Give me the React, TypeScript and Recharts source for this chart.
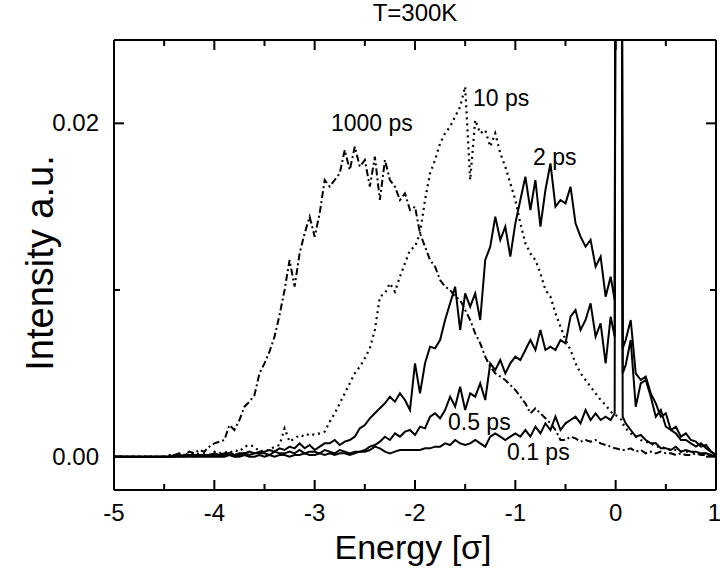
import React from "react";
import { LineChart, Line, XAxis, YAxis } from "recharts";

const FONT = '"Liberation Sans", Arial, Helvetica, sans-serif';

// energy grid (units of sigma)
const ENERGY = [
  -5, -4.8, -4.6,
  -4.5, -4.45, -4.4, -4.35, -4.3, -4.25, -4.2, -4.15, -4.1, -4.05,
  -4.0, -3.95, -3.9, -3.85, -3.8, -3.75, -3.7, -3.65, -3.6, -3.55,
  -3.5, -3.45, -3.4, -3.35, -3.3, -3.25, -3.2, -3.15, -3.1, -3.05,
  -3.0, -2.95, -2.9, -2.85, -2.8, -2.75, -2.7, -2.65, -2.6, -2.55,
  -2.5, -2.45, -2.4, -2.35, -2.3, -2.25, -2.2, -2.15, -2.1, -2.05,
  -2.0, -1.95, -1.9, -1.85, -1.8, -1.75, -1.7, -1.65, -1.6, -1.55,
  -1.5, -1.45, -1.4, -1.35, -1.3, -1.25, -1.2, -1.15, -1.1, -1.05,
  -1.0, -0.95, -0.9, -0.85, -0.8, -0.75, -0.7, -0.65, -0.6, -0.55,
  -0.5, -0.45, -0.4, -0.35, -0.3, -0.25, -0.2, -0.15, -0.1, -0.05,
  -0.01, 0, 0.06, 0.07,
  0.1, 0.15, 0.2, 0.25, 0.3, 0.35, 0.4, 0.45, 0.5, 0.55,
  0.6, 0.65, 0.7, 0.75, 0.8, 0.85, 0.9, 0.95, 1.0,
];

// intensities in units of 1e-3
const PS_1000 = [
  0, 0, 0,
  0, 0.1, 0.1, 0.2, 0.1, 0.3, 0.2, 0.4, 0.3, 0.6,
  0.8, 0.9, 1.0, 1.9, 1.6, 2.2, 3.0, 3.3, 3.7, 5.0,
  5.6, 6.3, 7.2, 8.5, 10.0, 11.8, 10.2, 12.2, 13.4, 14.4,
  13.2, 14.6, 16.6, 16.2, 16.6, 17.0, 18.4, 17.2, 18.6, 17.4,
  17.8, 16.2, 18.0, 15.4, 17.8, 16.6, 16.2, 15.4, 15.8, 14.8,
  15.0, 13.4, 12.6, 11.8, 11.4, 10.6, 10.2, 10.0, 9.6, 9.4,
  8.8, 8.2, 7.4, 6.8, 6.0, 5.4, 5.0, 4.8, 4.6, 4.3,
  4.0, 3.6, 3.2, 2.6, 2.9, 2.6, 2.3, 2.0, 1.6, 1.0,
  1.0, 1.2, 1.1, 0.9, 1.0, 0.9, 1.0, 0.8, 0.7, 0.6,
  0.5, 0.5, 0.4, 0.4,
  0.4, 0.5, 0.3, 0.4, 0.2, 0.3, 0.2, 0.3, 0.2, 0.2,
  0.1, 0.2, 0.1, 0.1, 0.2, 0.1, 0.1, 0.1, 0,
];

const PS_10 = [
  0, 0, 0,
  0, 0, 0.1, 0.1, 0.1, 0.2, 0.1, 0.2, 0.2, 0.1,
  0.3, 0.2, 0.3, 0.2, 0.4, 0.3, 0.6, 0.7, 0.6, 0.3,
  0.4, 0.4, 0.6, 0.7, 1.7, 0.9, 1.1, 1.3, 1.2, 1.4,
  1.3, 1.4, 1.5, 2.1, 2.6, 3.2, 3.8, 4.4, 5.0, 5.4,
  5.9, 6.5, 7.6, 9.6, 9.8, 10.4, 9.9, 10.8, 11.6, 12.4,
  12.6, 13.4, 15.4, 17.0, 17.8, 18.8, 19.4, 19.8, 20.4, 21.0,
  22.2, 16.6, 20.2, 19.4, 19.6, 18.6, 19.4, 18.2, 17.4, 16.4,
  15.4, 14.0, 12.8, 12.2, 11.8, 11.0, 10.0, 9.6, 8.6, 7.8,
  7.0, 6.4, 5.6, 5.0, 4.6, 4.2, 3.8, 3.4, 3.1, 2.7,
  2.5, 2.5, 2.2, 2.0,
  1.7, 1.4, 1.2, 1.0, 0.9, 0.8, 0.6, 0.6, 0.5, 0.4,
  0.4, 0.3, 0.3, 0.3, 0.2, 0.2, 0.2, 0.1, 0,
];

const PS_2 = [
  0, 0, 0,
  0, 0, 0.1, 0, 0.1, 0.1, 0.1, 0.1, 0.1, 0.1,
  0.2, 0.1, 0.2, 0.2, 0.1, 0.2, 0.2, 0.3, 0.2, 0.3,
  0.3, 0.4, 0.3, 0.5, 0.4, 0.6, 0.5, 0.8, 0.5, 0.7,
  0.4, 0.6, 0.8, 0.8, 1.0, 0.7, 0.9, 1.0, 1.2, 1.7,
  1.9, 2.3, 2.6, 2.9, 3.2, 3.6, 3.3, 3.8, 3.4, 2.8,
  5.6, 3.8, 5.6, 6.6, 6.5, 7.0, 8.2, 9.2, 10.2, 7.6,
  9.8, 9.0, 9.8, 8.2, 11.8, 12.6, 14.4, 13.0, 13.8, 12.0,
  14.0, 15.4, 16.8, 14.8, 16.6, 13.8, 16.0, 17.6, 15.0, 15.4,
  15.2, 16.2, 14.0, 13.2, 12.6, 13.0, 11.4, 12.0, 9.6, 10.8,
  9.4, 40, 40, 6.5,
  7.0, 8.2, 5.0, 4.6, 4.8, 3.8, 3.2, 2.4, 2.6, 1.6,
  1.8, 1.2, 1.4, 1.0, 0.9, 0.6, 0.7, 0.3, 0.1,
];

const PS_05 = [
  0, 0, 0,
  0, 0, 0, 0.1, 0, 0.1, 0, 0.1, 0.1, 0.1,
  0.1, 0.1, 0.1, 0.2, 0.1, 0.1, 0.2, 0.1, 0.2, 0.2,
  0.2, 0.1, 0.3, 0.2, 0.2, 0.3, 0.2, 0.4, 0.2, 0.3,
  0.3, 0.2, 0.4, 0.3, 0.2, 0.4, 0.3, 0.2, 0.3, 0.3,
  0.4, 0.6, 0.7, 0.9, 1.2, 1.0, 1.4, 1.2, 1.5, 1.6,
  1.3, 1.8, 1.7, 2.4, 2.6, 2.3, 2.8, 3.6, 3.0, 4.2,
  2.8, 3.8, 3.6, 4.4, 3.4, 5.6, 5.2, 5.8, 5.0, 5.6,
  6.0, 5.8, 6.4, 7.0, 6.4, 7.6, 6.4, 6.6, 6.4, 7.0,
  6.8, 8.4, 8.8, 7.6, 8.2, 9.2, 7.2, 8.0, 5.6, 8.4,
  7.2, 40, 40, 5.0,
  5.5, 7.0, 3.0, 4.4, 4.6, 3.6, 2.4, 2.8, 1.8, 1.6,
  1.4, 1.0, 1.0, 0.8, 0.6, 0.8, 0.5, 0.3, 0.1,
];

const PS_01 = [
  0, 0, 0,
  0, 0, 0, 0, 0, 0, 0, 0, 0, 0,
  0, 0, 0, 0.1, 0, 0, 0.1, 0, 0, 0.1,
  0, 0.1, 0, 0.1, 0.1, 0, 0.1, 0.1, 0.2, 0.1,
  0.1, 0.2, 0.1, 0.2, 0.1, 0.2, 0.2, 0.1, 0.2, 0.3,
  0.3, 0.4, 0.6, 0.5, 0.3, 0.2, 0.3, 0.4, 0.4, 0.4,
  0.4, 0.4, 0.5, 0.5, 0.6, 0.6, 0.8, 0.7, 1.0, 0.8,
  0.7, 0.8, 1.0, 0.8, 0.6, 1.2, 1.4, 1.2, 1.0, 1.2,
  1.4, 1.2, 1.6, 1.2, 1.8, 1.4, 2.0, 1.6, 2.4, 1.6,
  2.0, 2.2, 2.4, 2.0, 2.8, 2.2, 2.6, 2.2, 2.4, 2.2,
  2.6, 40, 40, 2.4,
  2.0, 1.6, 1.2, 1.3, 1.0, 0.8, 0.8, 0.5, 0.5, 0.4,
  0.6, 0.3, 0.4, 0.3, 0.3, 0.2, 0.2, 0.1, 0,
];

const X_TICKS = [-5, -4.5, -4, -3.5, -3, -2.5, -2, -1.5, -1, -0.5, 0, 0.5, 1];
const Y_TICKS = [0, 0.01, 0.02];
const Y_LABELED = [0, 0.02];

const data = ENERGY.map((e, i) => ({
  e,
  p1000: PS_1000[i] / 1000,
  p10: PS_10[i] / 1000,
  p2: PS_2[i] / 1000,
  p05: PS_05[i] / 1000,
  p01: PS_01[i] / 1000,
}));

const isMajorX = (v: number) => Number.isInteger(v);
const isLabeledY = (v: number) => Y_LABELED.some((t) => Math.abs(t - v) < 1e-9);

function BottomTick(props: any) {
  const { x, y, payload } = props;
  const v = payload.value;
  const major = isMajorX(v);
  // last label sits on the frame edge, keep it inside the page
  const last = v === 1;
  return (
    <g>
      <line x1={x} x2={x} y1={y} y2={y - (major ? 10 : 6)} stroke="#000" strokeWidth={2} />
      {major && (
        <text
          x={last ? x + 5 : x}
          y={y + 31}
          textAnchor={last ? "end" : "middle"}
          fontSize={24}
          fontFamily={FONT}
          fill="#000"
        >
          {String(v)}
        </text>
      )}
    </g>
  );
}

function TopTick(props: any) {
  const { x, y, payload } = props;
  const major = isMajorX(payload.value);
  return <line x1={x} x2={x} y1={y} y2={y + (major ? 10 : 6)} stroke="#000" strokeWidth={2} />;
}

function LeftTick(props: any) {
  const { x, y, payload } = props;
  const v = payload.value;
  const major = isLabeledY(v);
  return (
    <g>
      <line x1={x} x2={x + (major ? 10 : 6)} y1={y} y2={y} stroke="#000" strokeWidth={2} />
      {major && (
        <text x={x - 15} y={y + 8} textAnchor="end" fontSize={24} fontFamily={FONT} fill="#000">
          {v.toFixed(2)}
        </text>
      )}
    </g>
  );
}

function RightTick(props: any) {
  const { x, y, payload } = props;
  const major = isLabeledY(payload.value);
  return <line x1={x} x2={x - (major ? 10 : 6)} y1={y} y2={y} stroke="#000" strokeWidth={2} />;
}

const axisLine = { stroke: "#000", strokeWidth: 2 };

const textStyle: React.CSSProperties = {
  position: "absolute",
  fontFamily: FONT,
  color: "#000",
  lineHeight: 1,
  whiteSpace: "nowrap",
};

export default function App() {
  return (
    <div
      style={{
        position: "absolute",
        left: 0,
        top: 0,
        width: 720,
        height: 576,
        background: "#fff",
      }}
    >
      <LineChart
        width={720}
        height={576}
        data={data}
        margin={{ top: 38, right: 2, bottom: 46, left: 54 }}
      >
        <XAxis
          dataKey="e"
          type="number"
          domain={[-5, 1]}
          ticks={X_TICKS}
          interval={0}
          tick={<BottomTick />}
          tickLine={false}
          tickSize={0}
          tickMargin={0}
          axisLine={axisLine}
          height={40}
          allowDataOverflow
        />
        <XAxis
          xAxisId="top"
          orientation="top"
          dataKey="e"
          type="number"
          domain={[-5, 1]}
          ticks={X_TICKS}
          interval={0}
          tick={<TopTick />}
          tickLine={false}
          tickSize={0}
          tickMargin={0}
          axisLine={axisLine}
          height={2}
          allowDataOverflow
        />
        <YAxis
          type="number"
          domain={[-0.002, 0.025]}
          ticks={Y_TICKS}
          interval={0}
          tick={<LeftTick />}
          tickLine={false}
          tickSize={0}
          tickMargin={0}
          axisLine={axisLine}
          width={60}
          allowDataOverflow
        />
        <YAxis
          yAxisId="right"
          orientation="right"
          type="number"
          domain={[-0.002, 0.025]}
          ticks={Y_TICKS}
          interval={0}
          tick={<RightTick />}
          tickLine={false}
          tickSize={0}
          tickMargin={0}
          axisLine={axisLine}
          width={2}
          allowDataOverflow
        />
        <Line
          dataKey="p1000"
          type="linear"
          stroke="#000"
          strokeWidth={2}
          strokeDasharray="7 3 2 3"
          dot={false}
          isAnimationActive={false}
        />
        <Line
          dataKey="p10"
          type="linear"
          stroke="#000"
          strokeWidth={2.2}
          strokeDasharray="2 4"
          dot={false}
          isAnimationActive={false}
        />
        <Line dataKey="p2" type="linear" stroke="#000" strokeWidth={2} dot={false} isAnimationActive={false} />
        <Line dataKey="p05" type="linear" stroke="#000" strokeWidth={2} dot={false} isAnimationActive={false} />
        {/* same scales as the bottom/left pair; drawn on the mirror axes so they render */}
        <Line
          dataKey="p01"
          xAxisId="top"
          yAxisId="right"
          type="linear"
          stroke="#000"
          strokeWidth={2}
          dot={false}
          isAnimationActive={false}
        />
      </LineChart>

      <div style={{ ...textStyle, left: 415, top: 13, fontSize: 24, transform: "translate(-50%, -50%)" }}>
        T=300K
      </div>
      <div
        style={{
          ...textStyle,
          left: 40,
          top: 263,
          fontSize: 38,
          transform: "translate(-50%, -50%) rotate(-90deg)",
        }}
      >
        Intensity a.u.
      </div>
      <div style={{ ...textStyle, left: 413, top: 547, fontSize: 34, transform: "translate(-50%, -50%)" }}>
        Energy [σ]
      </div>

      <div style={{ ...textStyle, left: 331, top: 112, fontSize: 23 }}>1000 ps</div>
      <div style={{ ...textStyle, left: 473, top: 87, fontSize: 23 }}>10 ps</div>
      <div style={{ ...textStyle, left: 533, top: 146, fontSize: 23 }}>2 ps</div>
      <div style={{ ...textStyle, left: 448, top: 411, fontSize: 23 }}>0.5 ps</div>
      <div style={{ ...textStyle, left: 507, top: 441, fontSize: 23 }}>0.1 ps</div>
    </div>
  );
}
